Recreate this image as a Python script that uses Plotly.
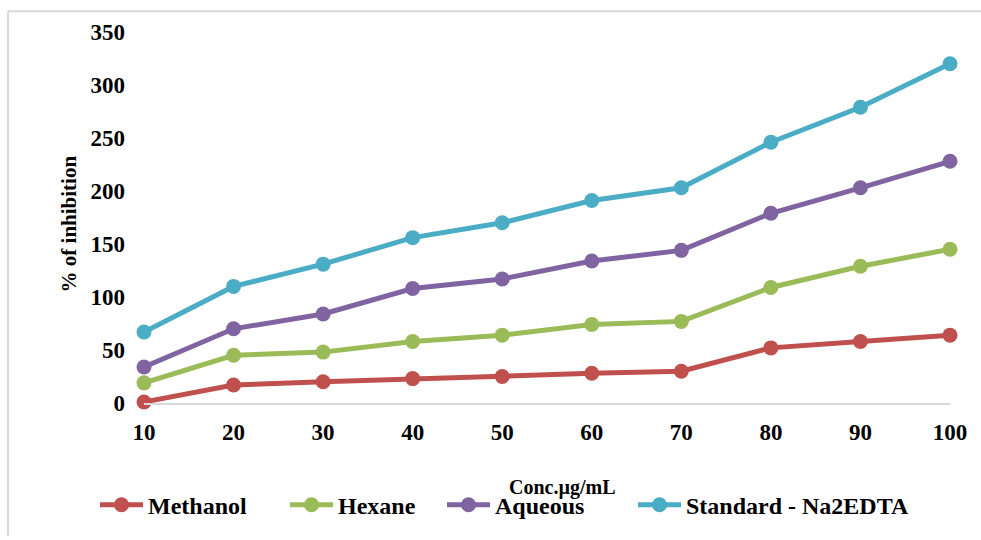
import plotly.graph_objects as go

# Concentration (µg/mL) and % inhibition per extract
conc = [10, 20, 30, 40, 50, 60, 70, 80, 90, 100]
methanol = [1, 17, 20, 23, 25, 28, 30, 52, 58, 64]
hexane = [19, 45, 48, 58, 64, 74, 77, 109, 129, 145]
aqueous = [34, 70, 84, 108, 117, 134, 144, 179, 203, 228]
standard = [67, 110, 131, 156, 170, 191, 203, 246, 279, 320]

names = ["Methanol", "Hexane", "Aqueous", "Standard - Na2EDTA"]
colors = ["#C0504D", "#9BBB59", "#8064A2", "#4BACC6"]
series = [methanol, hexane, aqueous, standard]

FONT = "Liberation Serif"
W, H = 981, 540
L, R, T, B = 144, 31, 32, 134
PW, PH = W - L - R, H - T - B


def px_x(px):
    return (px - L) / PW


def px_y(py):
    return (H - B - py) / PH


fig = go.Figure()
legend_ids = ["legend", "legend2", "legend3", "legend4"]
legend_left = [95, 285, 442, 633]

for name, color, vals, lid in zip(names, colors, series, legend_ids):
    fig.add_trace(go.Scatter(
        x=conc, y=vals, name=f"<b>{name}</b>", mode="lines+markers",
        line=dict(color=color, width=5),
        marker=dict(color=color, size=15),
        cliponaxis=False, legend=lid,
    ))

layout_legends = {}
for lid, left in zip(legend_ids, legend_left):
    layout_legends[lid] = dict(
        x=px_x(left), y=px_y(509), xanchor="left", yanchor="middle",
        orientation="h", itemwidth=43, bgcolor="rgba(0,0,0,0)",
        font=dict(family=FONT, size=24, color="black"),
    )

fig.update_layout(
    width=W, height=H,
    margin=dict(l=L, r=R, t=T, b=B),
    paper_bgcolor="white", plot_bgcolor="white",
    showlegend=True,
    font=dict(family=FONT, color="black"),
    **layout_legends,
    xaxis=dict(
        range=[10, 100], tickmode="array", tickvals=conc,
        ticktext=[f"<b>{c}</b>" for c in conc],
        showgrid=False, zeroline=False, showline=True,
        linecolor="#d9d9d9", linewidth=2, ticks="",
        ticklabelstandoff=7,
        tickfont=dict(family=FONT, size=23, color="black"),
    ),
    yaxis=dict(
        range=[0, 350], tickmode="array", tickvals=list(range(0, 351, 50)),
        ticktext=[f"<b>{v}</b>" for v in range(0, 351, 50)],
        showgrid=False, zeroline=False, showline=False, ticks="",
        ticklabelstandoff=18,
        tickfont=dict(family=FONT, size=23, color="black"),
    ),
    annotations=[
        dict(text="<b>% of inhibition</b>", x=px_x(69), y=px_y(226),
             xref="paper", yref="paper", xanchor="center", yanchor="middle",
             showarrow=False, textangle=-90,
             font=dict(family=FONT, size=21, color="black")),
        dict(text="<b>Conc.µg/mL</b>", x=px_x(562), y=px_y(491),
             xref="paper", yref="paper", xanchor="center", yanchor="middle",
             showarrow=False,
             font=dict(family=FONT, size=20, color="black")),
    ],
    shapes=[
        dict(type="line", xref="paper", yref="paper",
             x0=px_x(8), x1=px_x(981), y0=px_y(11), y1=px_y(11),
             line=dict(color="#d9d9d9", width=2)),
        dict(type="line", xref="paper", yref="paper",
             x0=px_x(8), x1=px_x(8), y0=px_y(11), y1=px_y(540),
             line=dict(color="#d9d9d9", width=2)),
    ],
)

fig.write_html("out.html")
